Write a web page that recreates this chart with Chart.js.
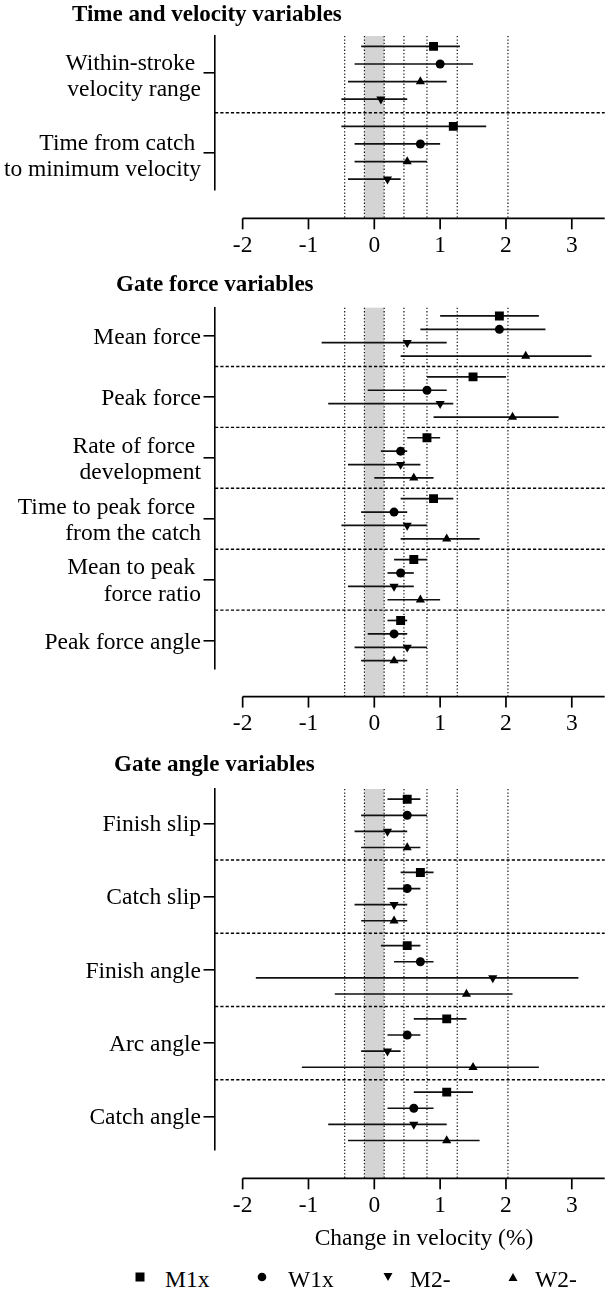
<!DOCTYPE html>
<html><head><meta charset="utf-8">
<script src="https://cdn.jsdelivr.net/npm/chart.js@4.4.1/dist/chart.umd.min.js"></script>
<style>
html,body{margin:0;padding:0;background:#fff;}
#wrap{position:relative;width:611px;height:1299px;overflow:hidden;font-family:"Liberation Serif","Times New Roman",serif;color:#000;}
canvas{position:absolute;left:0;}
.t{position:absolute;font-size:23.5px;line-height:27px;white-space:nowrap;z-index:2;}
.b{font-weight:bold;font-size:23px;}
.lg{position:absolute;z-index:2;}
</style></head><body>
<div id="wrap">
<canvas id="c1" width="611" height="270" style="top:0px;width:611px;height:270px"></canvas>
<canvas id="c2" width="611" height="480" style="top:270px;width:611px;height:480px"></canvas>
<canvas id="c3" width="611" height="500" style="top:750px;width:611px;height:500px"></canvas>
<div class="t b" style="left:72px;top:0px">Time and velocity variables</div>
<div class="t b" style="left:116px;top:270px">Gate force variables</div>
<div class="t b" style="left:114px;top:750px">Gate angle variables</div>
<div class="t" style="left:424px;top:1224px;transform:translateX(-50%)">Change in velocity (%)</div>
<svg class="lg" style="left:134px;top:1271px" width="12" height="12"><rect x="1.5" y="1.5" width="9" height="9" fill="#000"/></svg>
<div class="t" style="left:165px;top:1266px">M1x</div>
<svg class="lg" style="left:256px;top:1271px" width="12" height="12"><circle cx="6" cy="6" r="4.3" fill="#000"/></svg>
<div class="t" style="left:288px;top:1266px">W1x</div>
<svg class="lg" style="left:382px;top:1271px" width="12" height="12"><polygon points="1.5,2 10.5,2 6,10" fill="#000"/></svg>
<div class="t" style="left:410px;top:1266px">M2-</div>
<svg class="lg" style="left:507px;top:1271px" width="12" height="12"><polygon points="1.5,10 10.5,10 6,2" fill="#000"/></svg>
<div class="t" style="left:535px;top:1266px">W2-</div>
</div>
<script>
// ---------- data ----------
const xTicks = [-2, -1, 0, 1, 2, 3];
const refLines = [-0.45, 0.45, 0.8, 1.26, 2.03];
const trivialBand = [-0.15, 0.15];

// Panel 1: time and velocity variables  (each entry: [mean, lower, upper])
const timeCats = [['Within-stroke ', 'velocity range'], ['Time from catch ', 'to minimum velocity']];
const timeRowOrder = ['M1x', 'W1x', 'W2-', 'M2-'];
const timeM1x = [[0.9, -0.2, 1.3], [1.2, -0.5, 1.7]];
const timeW1x = [[1.0, -0.3, 1.5], [0.7, -0.3, 1.0]];
const timeM2 = [[0.1, -0.5, 0.5], [0.2, -0.4, 0.4]];
const timeW2 = [[0.7, -0.4, 1.1], [0.5, -0.3, 0.8]];

// Panel 2: gate force variables
const forceCats = ['Mean force', 'Peak force', ['Rate of force ', 'development'],
  ['Time to peak force ', 'from the catch'], ['Mean to peak ', 'force ratio'], 'Peak force angle'];
const forceRowOrder = ['M1x', 'W1x', 'M2-', 'W2-'];
const forceM1x = [[1.9, 1.0, 2.5], [1.5, 0.8, 2.0], [0.8, 0.5, 1.0], [0.9, 0.4, 1.2], [0.6, 0.3, 0.8], [0.4, 0.2, 0.5]];
const forceW1x = [[1.9, 0.7, 2.6], [0.8, -0.1, 1.1], [0.4, 0.1, 0.5], [0.3, -0.2, 0.5], [0.4, 0.2, 0.6], [0.3, -0.1, 0.5]];
const forceM2 = [[0.5, -0.8, 1.1], [1.0, -0.7, 1.2], [0.4, -0.4, 0.7], [0.5, -0.5, 0.8], [0.3, -0.4, 0.6], [0.5, -0.3, 0.8]];
const forceW2 = [[2.3, 0.4, 3.3], [2.1, 0.9, 2.8], [0.6, 0.0, 0.9], [1.1, 0.4, 1.6], [0.7, 0.2, 1.0], [0.3, -0.2, 0.5]];

// Panel 3: gate angle variables
const angleCats = ['Finish slip', 'Catch slip', 'Finish angle', 'Arc angle', 'Catch angle'];
const angleRowOrder = ['M1x', 'W1x', 'M2-', 'W2-'];
const angleM1x = [[0.5, 0.2, 0.7], [0.7, 0.4, 0.9], [0.5, 0.1, 0.7], [1.1, 0.6, 1.4], [1.1, 0.6, 1.5]];
const angleW1x = [[0.5, -0.2, 0.8], [0.5, 0.2, 0.7], [0.7, 0.3, 0.9], [0.5, 0.2, 0.7], [0.6, 0.2, 0.9]];
const angleM2 = [[0.2, -0.3, 0.5], [0.3, -0.3, 0.5], [1.8, -1.8, 3.1], [0.2, -0.2, 0.4], [0.6, -0.7, 1.1]];
const angleW2 = [[0.5, -0.2, 0.7], [0.3, -0.2, 0.5], [1.4, -0.6, 2.1], [1.5, -1.1, 2.5], [1.1, -0.4, 1.6]];

// ---------- styling / layout ----------
const FONT = 'Liberation Serif';
const FS = 23.5;
const rowOffsets = [-0.33, -0.11, 0.11, 0.33];
const markerStyle = {
  'M1x': {style: 'rect', rot: 0, r: 6.3},
  'W1x': {style: 'circle', rot: 0, r: 4.5},
  'M2-': {style: 'triangle', rot: 180, r: 5.3},
  'W2-': {style: 'triangle', rot: 0, r: 5.3}
};

function decorPlugin(nCats) {
  return {
    id: 'decor',
    beforeDatasetsDraw(chart) {
      const {ctx, chartArea: a, scales: {x, y}} = chart;
      const axisY = a.bottom + 28.3;
      ctx.save();
      // trivial band
      const b0 = x.getPixelForValue(trivialBand[0]), b1 = x.getPixelForValue(trivialBand[1]);
      ctx.fillStyle = '#d4d4d4';
      ctx.fillRect(b0, a.top, b1 - b0, axisY - a.top);
      // dotted reference lines
      ctx.strokeStyle = '#111';
      ctx.lineWidth = 1.2;
      ctx.setLineDash([1.3, 2.1]);
      for (const v of refLines.concat(trivialBand)) {
        const px = x.getPixelForValue(v);
        ctx.beginPath(); ctx.moveTo(px, a.top); ctx.lineTo(px, axisY); ctx.stroke();
      }
      // dashed category separators
      ctx.strokeStyle = '#000';
      ctx.lineWidth = 1.4;
      ctx.setLineDash([3.2, 2.1]);
      for (let c = 0; c < nCats - 1; c++) {
        const py = y.getPixelForValue(c + 0.5);
        ctx.beginPath(); ctx.moveTo(a.left, py); ctx.lineTo(a.right, py); ctx.stroke();
      }
      // detached x axis line and tick marks
      ctx.setLineDash([]);
      ctx.lineWidth = 1.7;
      ctx.beginPath();
      ctx.moveTo(x.getPixelForValue(xTicks[0]), axisY);
      ctx.lineTo(a.right, axisY);
      ctx.stroke();
      for (const v of xTicks) {
        const px = x.getPixelForValue(v);
        ctx.beginPath(); ctx.moveTo(px, axisY); ctx.lineTo(px, axisY + 11); ctx.stroke();
      }
      // error bars
      ctx.strokeStyle = '#111';
      ctx.lineWidth = 1.7;
      chart.data.datasets.forEach(ds => {
        ds.data.forEach(p => {
          const py = y.getPixelForValue(p.y);
          ctx.beginPath();
          ctx.moveTo(x.getPixelForValue(p.lo), py);
          ctx.lineTo(x.getPixelForValue(p.hi), py);
          ctx.stroke();
        });
      });
      ctx.restore();
    }
  };
}

function makePanel(id, cats, rowOrder, seriesData, yMin, yMax, padTop, xH, lblOff) {
  const datasets = rowOrder.map((name, r) => {
    const m = markerStyle[name];
    return {
      label: name,
      data: seriesData[name].map((v, c) => ({x: v[0], y: c + rowOffsets[r], lo: v[1], hi: v[2]})),
      pointStyle: m.style,
      rotation: m.rot,
      pointRadius: m.r,
      backgroundColor: '#000',
      borderColor: '#000',
      borderWidth: 0,
      showLine: false
    };
  });
  new Chart(document.getElementById(id), {
    type: 'scatter',
    data: {datasets},
    options: {
      responsive: false,
      animation: false,
      events: [],
      devicePixelRatio: 1,
      layout: {padding: {top: padTop, right: 6, left: 0, bottom: 0}},
      plugins: {legend: {display: false}, tooltip: {enabled: false}},
      scales: {
        x: {
          type: 'linear', min: -2.42, max: 3.5,
          afterBuildTicks: s => { s.ticks = xTicks.map(v => ({value: v})); },
          afterFit: s => { s.height = xH; },
          grid: {display: true, drawOnChartArea: false, drawTicks: true, tickLength: 36, color: 'rgba(0,0,0,0)'},
          border: {display: false},
          ticks: {autoSkip: false, maxRotation: 0, padding: 6, color: '#000',
            font: {family: FONT, size: FS, lineHeight: 1.18}, callback: v => String(v)}
        },
        y: {
          type: 'linear', reverse: true, min: yMin, max: yMax,
          afterBuildTicks: s => { s.ticks = cats.map((_, i) => ({value: i})); },
          afterFit: s => { s.width = 215; },
          grid: {drawOnChartArea: false, drawTicks: true, tickLength: 11.5, color: '#000', lineWidth: 1.6},
          border: {display: true, color: '#000', width: 1.6},
          ticks: {autoSkip: false, padding: 2.5, color: '#000', labelOffset: lblOff,
            font: {family: FONT, size: FS, lineHeight: 1.136}, callback: v => cats[v]}
        }
      }
    },
    plugins: [decorPlugin(cats.length)]
  });
}

makePanel('c1', timeCats, timeRowOrder,
  {'M1x': timeM1x, 'W1x': timeW1x, 'M2-': timeM2, 'W2-': timeW2},
  -0.46, 1.466, 36, 80, 4);
makePanel('c2', forceCats, forceRowOrder,
  {'M1x': forceM1x, 'W1x': forceW1x, 'M2-': forceM2, 'W2-': forceW2},
  -0.465, 5.455, 37.7, 81.7, 2);
makePanel('c3', angleCats, angleRowOrder,
  {'M1x': angleM1x, 'W1x': angleW1x, 'M2-': angleM2, 'W2-': angleW2},
  -0.469, 4.46, 39, 100, 1.5);
</script>
</body></html>
